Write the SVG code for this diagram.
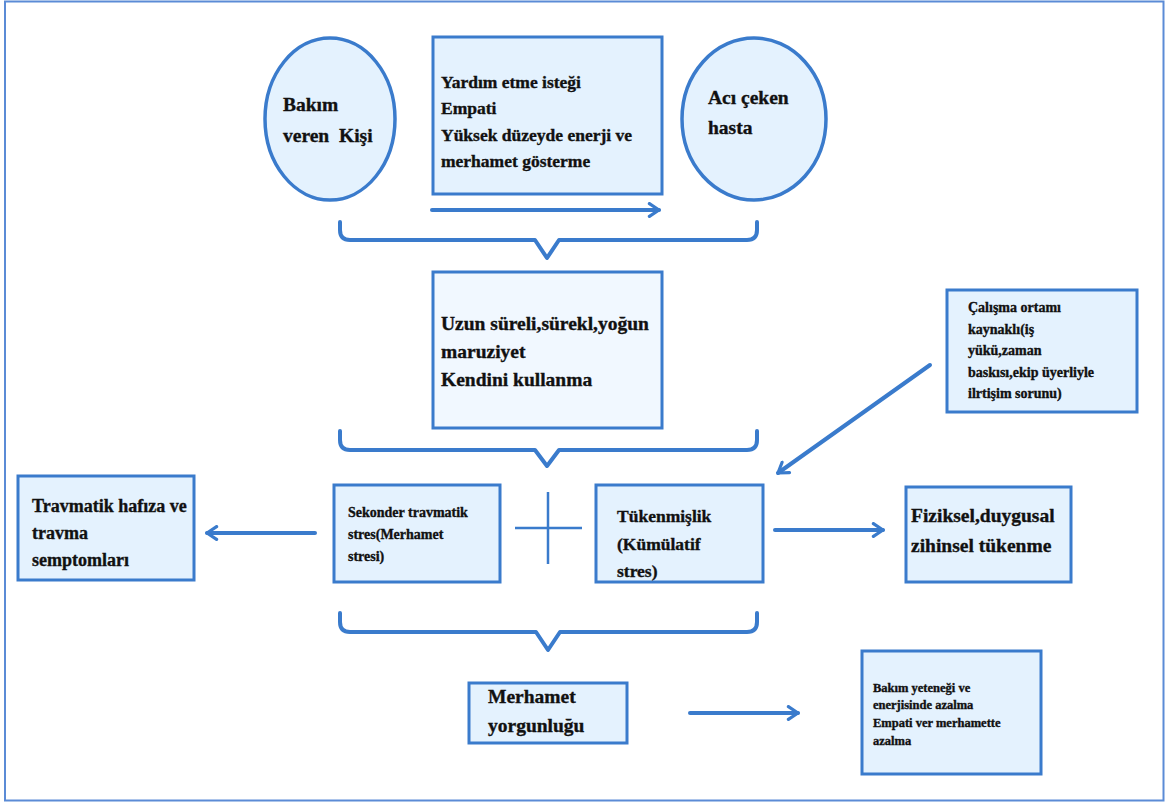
<svg xmlns="http://www.w3.org/2000/svg" width="1165" height="803" viewBox="0 0 1165 803">
<defs>
<style>
.bx{fill:#e4f2fe;stroke:#3a7bcc;stroke-width:3}
.bx2{fill:#f1f8ff;stroke:#3a7bcc;stroke-width:3}
.el{fill:#e4f2fe;stroke:#3a7bcc;stroke-width:3.5}
.ln{fill:none;stroke:#3a7bcc;stroke-width:4;stroke-linecap:round;stroke-linejoin:round}
.pl{fill:none;stroke:#3a7bcc;stroke-width:2.5}
text{font-family:"Liberation Serif","DejaVu Serif",serif;font-weight:bold;fill:#111;stroke:#111;stroke-width:0.35}
.t19{font-size:19.5px}
.t18{font-size:18px}
.t17{font-size:17.5px}
.t16{font-size:17.5px}
.t13{font-size:14px}
.t11{font-size:12.5px}
</style>
<marker id="ah" viewBox="0 0 10 10" refX="8" refY="5" markerWidth="4" markerHeight="4" orient="auto" markerUnits="strokeWidth">
<path d="M2,1 L8,5 L2,9" fill="none" stroke="#3a7bcc" stroke-width="2" stroke-linecap="round" stroke-linejoin="round"/>
</marker>
</defs>
<rect x="5" y="1.5" width="1158.5" height="799" fill="#fff" stroke="#5b8bd6" stroke-width="2"/>
<g id="bakim-veren">
<ellipse class="el" cx="330" cy="119" rx="65" ry="81"/>
<text class="t19" x="283" y="111">Bakım</text>
<text class="t19" x="283" y="142" xml:space="preserve">veren  Kişi</text>
</g>
<g id="yardim">
<rect class="bx" x="433" y="37" width="229" height="157"/>
<text class="t16" x="441" y="88">Yardım etme isteği</text>
<text class="t16" x="441" y="114">Empati</text>
<text class="t16" x="441" y="141">Yüksek düzeyde enerji ve</text>
<text class="t16" x="441" y="167">merhamet gösterme</text>
</g>
<g id="aci-ceken">
<ellipse class="el" cx="754" cy="119" rx="72" ry="81"/>
<text class="t19" x="708" y="104">Acı çeken</text>
<text class="t19" x="708" y="134">hasta</text>
</g>
<g id="uzun-sureli">
<rect class="bx2" x="433" y="272" width="229" height="156"/>
<text class="t19" x="441" y="330">Uzun süreli,sürekl,yoğun</text>
<text class="t19" x="441" y="358">maruziyet</text>
<text class="t19" x="441" y="386">Kendini kullanma</text>
</g>
<g id="calisma-ortami">
<rect class="bx" x="947" y="290" width="190" height="122"/>
<text class="t13" x="968" y="312">Çalışma ortamı</text>
<text class="t13" x="968" y="334">kaynaklı(iş</text>
<text class="t13" x="968" y="355">yükü,zaman</text>
<text class="t13" x="968" y="377">baskısı,ekip üyerliyle</text>
<text class="t13" x="968" y="398">ilrtişim sorunu)</text>
</g>
<g id="travmatik">
<rect class="bx" x="18" y="476" width="176" height="104"/>
<text class="t18" x="32" y="512">Travmatik hafıza ve</text>
<text class="t18" x="32" y="539">travma</text>
<text class="t18" x="32" y="566">semptomları</text>
</g>
<g id="sekonder">
<rect class="bx" x="334" y="485" width="166" height="97"/>
<text class="t13" x="348" y="517">Sekonder travmatik</text>
<text class="t13" x="348" y="539">stres(Merhamet</text>
<text class="t13" x="348" y="561">stresi)</text>
</g>
<g id="tukenmislik">
<rect class="bx" x="596" y="485" width="167" height="97"/>
<text class="t17" x="617" y="522">Tükenmişlik</text>
<text class="t17" x="617" y="550">(Kümülatif</text>
<text class="t17" x="617" y="577">stres)</text>
</g>
<g id="fiziksel">
<rect class="bx" x="906" y="487" width="165" height="95"/>
<text class="t19" x="911" y="522">Fiziksel,duygusal</text>
<text class="t19" x="911" y="552">zihinsel tükenme</text>
</g>
<g id="merhamet-yorgunlugu">
<rect class="bx" x="469" y="683" width="158" height="60"/>
<text class="t19" x="488" y="703">Merhamet</text>
<text class="t19" x="488" y="732">yorgunluğu</text>
</g>
<g id="bakim-yetenegi">
<rect class="bx" x="862" y="651" width="179" height="123"/>
<text class="t11" x="873" y="692">Bakım yeteneği ve</text>
<text class="t11" x="873" y="709">enerjisinde azalma</text>
<text class="t11" x="873" y="727">Empati ver merhamette</text>
<text class="t11" x="873" y="745">azalma</text>
</g>
<g id="connectors">
<line class="ln" x1="432" y1="210" x2="659" y2="210" marker-end="url(#ah)"/>
<path class="ln" d="M340,222 V230 Q340,240 350,240 H535 L547,258 L559,240 H747 Q757,240 757,230 V222"/>
<path class="ln" d="M340,431 V440 Q340,450 350,450 H535 L547,466 L559,450 H747 Q757,450 757,440 V431"/>
<line class="ln" x1="930" y1="365" x2="778" y2="473" marker-end="url(#ah)"/>
<line class="ln" x1="315" y1="533" x2="207" y2="533" marker-end="url(#ah)"/>
<line class="pl" x1="548" y1="492" x2="548" y2="564"/>
<line class="pl" x1="515" y1="528" x2="582" y2="528"/>
<line class="ln" x1="775" y1="530" x2="883" y2="530" marker-end="url(#ah)"/>
<path class="ln" d="M340,613 V622 Q340,632 350,632 H536 L548,650 L560,632 H747 Q757,632 757,622 V613"/>
<line class="ln" x1="690" y1="713" x2="798" y2="713" marker-end="url(#ah)"/>
</g>
</svg>
